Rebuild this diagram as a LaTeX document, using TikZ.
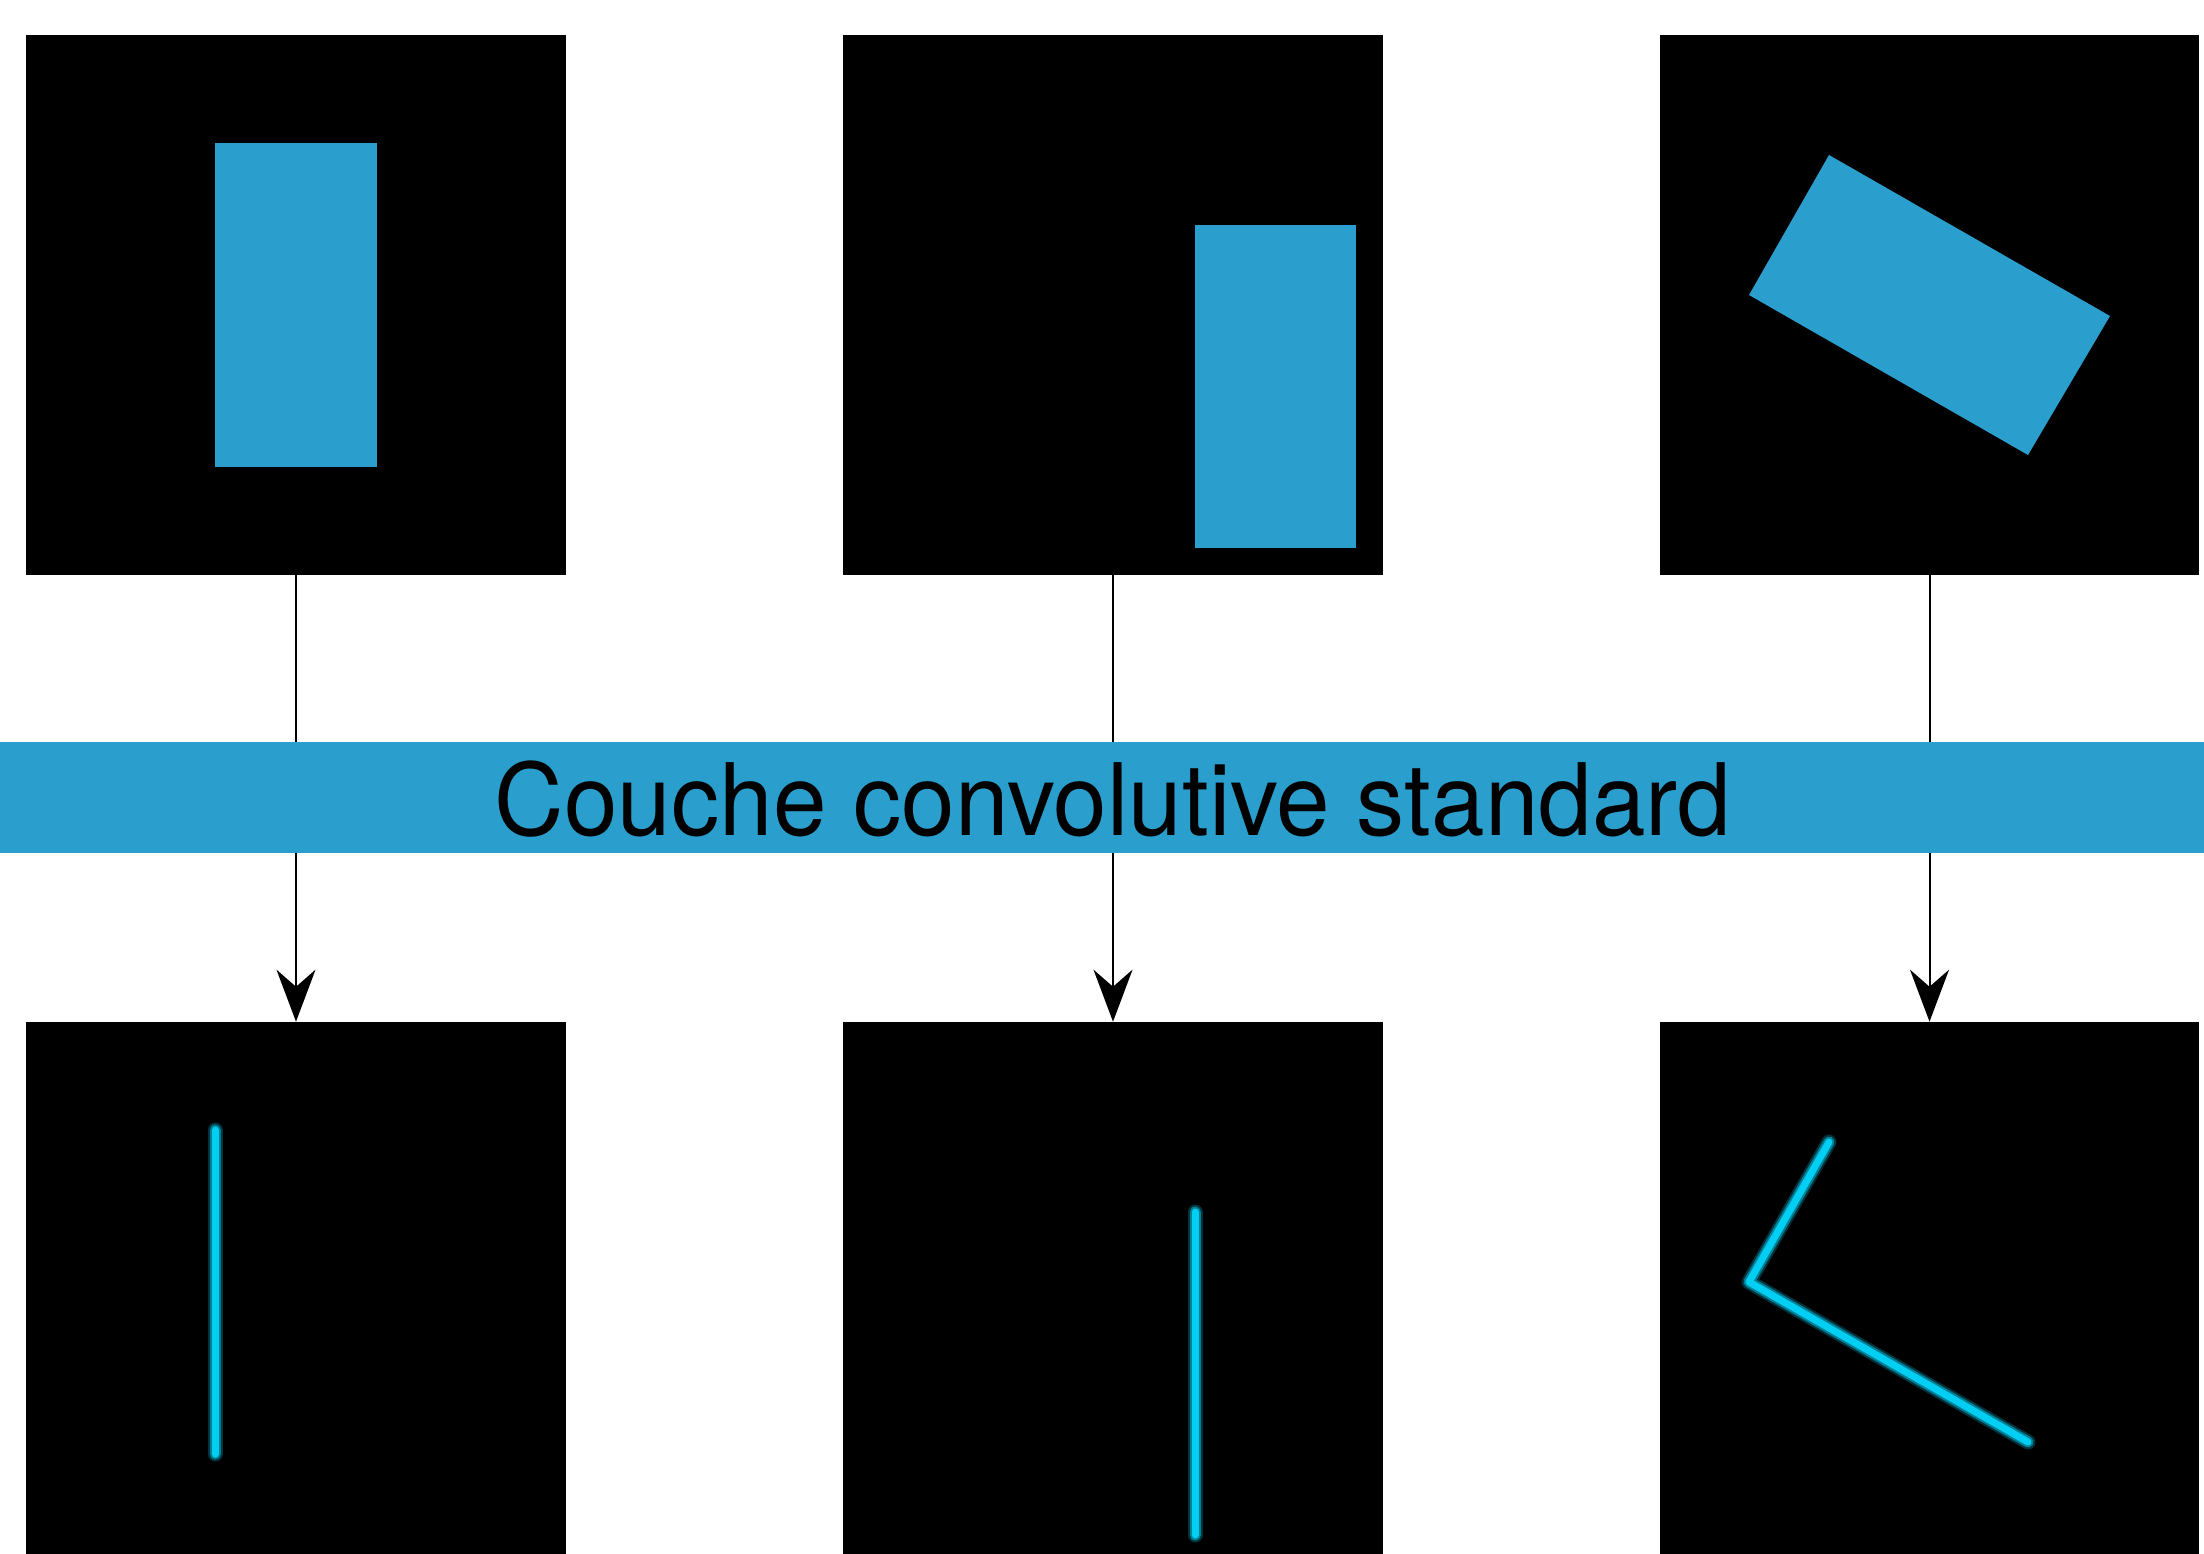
\documentclass[tikz,border=0pt]{standalone}
\usepackage{fontspec}
\setmainfont{TeX Gyre Heros}
\usetikzlibrary{arrows.meta}
\definecolor{bandblue}{RGB}{42,159,206}
\definecolor{edgecyan}{RGB}{0,206,242}
\tikzset{
  panel/.style={fill=black, draw=none, inner sep=0pt, minimum width=10.8cm, minimum height=10.8cm},
  arr/.style={draw=black, line width=0.04cm, -{Stealth[length=1.04cm, width=0.78cm, inset=0.34cm]}},
  bluebox/.style={fill=bandblue, draw=none},
  glowA/.style={draw=edgecyan, opacity=0.25, line width=0.30cm, line cap=round, line join=round},
  glowB/.style={draw=edgecyan, opacity=0.5, line width=0.22cm, line cap=round, line join=round},
  edgeline/.style={draw=edgecyan, line width=0.14cm, line cap=round, line join=round},
}
\begin{document}
\begin{tikzpicture}[x=0.02cm, y=-0.02cm]
\useasboundingbox (0,0) rectangle (2204,1554);
\clip (0,0) rectangle (2204,1554);
% top panels
\node[panel] (p1) at (296,305) {};
\node[panel] (p2) at (1113,305) {};
\node[panel] (p3) at (1929.5,305) {};
% bottom panels
\node[panel] (q1) at (296,1292) {};
\node[panel] (q2) at (1113,1292) {};
\node[panel] (q3) at (1929.5,1292) {};
% shapes in top panels
\fill[bluebox] (215,143) rectangle (377,467);
\fill[bluebox] (1195,225) rectangle (1356,548);
\fill[bluebox] (1829,155) -- (2110,316) -- (2028,455) -- (1749,295) -- cycle;
% arrows
\draw[arr] (p1.south) -- (q1.north);
\draw[arr] (p2.south) -- (q2.north);
\draw[arr] (p3.south) -- (q3.north);
% band
\node[fill=bandblue, inner sep=0pt, minimum width=44.08cm, minimum height=2.22cm] (band) at (1102,797.5) {};
\node[anchor=base, inner sep=0pt, xscale=0.963] (title) at (1113,835) {\fontsize{56.9}{60}\selectfont Couche convolutive standard};
% edges in bottom panels
\foreach \s in {glowA,glowB,edgeline}{
  \draw[\s] (215,1130) -- (215,1454);
  \draw[\s] (1195,1212) -- (1195,1535);
  \draw[\s] (1829,1142) -- (1749,1282) -- (2028,1442);
}
\end{tikzpicture}
\end{document}
